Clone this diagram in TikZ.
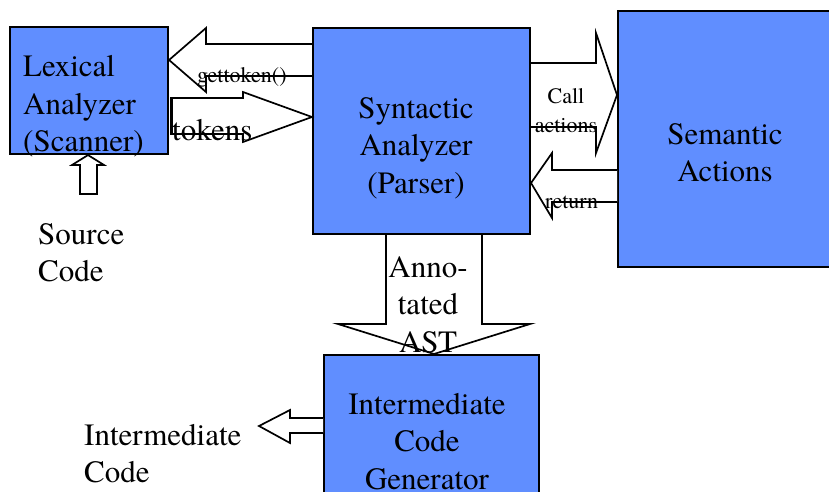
\documentclass[tikz,border=0pt]{standalone}
\usepackage{fontspec}
\setmainfont{TeX Gyre Termes}
\usetikzlibrary{calc}
\definecolor{boxblue}{RGB}{96,142,255}
\newcommand{\txtstack}[2]{\begin{tabular}[t]{@{}#1@{}}#2\end{tabular}}
\begin{document}
\begin{tikzpicture}[x=1pt,y=-1pt,
  box/.style={draw=black,line width=2.1pt,fill=boxblue,inner sep=0pt},
  blockarrow/.style={draw=black,line width=1.7pt,fill=white,line join=miter},
  big/.style={font=\fontsize{31}{37.5}\selectfont,inner sep=0pt},
  small/.style={font=\fontsize{22}{29}\selectfont,inner sep=0pt}]
\useasboundingbox (0,0) rectangle (829,492);
\clip (0,0) rectangle (829,492);

% processing stages
\node[box,minimum width=158pt,minimum height=127pt] (lex) at (89,90.5) {};
\node[box,minimum width=217pt,minimum height=206pt] (syn) at (421.5,131) {};
\node[box,minimum width=230pt,minimum height=256pt,anchor=north west] (sem) at (617,10) {};
\node[box,minimum width=215pt,minimum height=160pt,anchor=north west] (icg) at (323,354) {};

% block arrows between the stages
\draw[blockarrow] (syn.west |- 0,44) -- (206,44) -- (206,28) -- (lex.east |- 0,60)
  -- (206,92) -- (206,76) -- (syn.west |- 0,76);
\draw[blockarrow] (171,98) -- (243,98) -- (243,92) -- (syn.west |- 0,117)
  -- (243,142) -- (243,134) -- (171,134) -- cycle;
\draw[line width=3pt] (171,98) -- (171,134);
\draw[blockarrow] (syn.east |- 0,63) -- (596,63) -- (596,33) -- (sem.west |- 0,95)
  -- (596,153) -- (596,127) -- (syn.east |- 0,127);
\draw[blockarrow] (sem.west |- 0,170) -- (552,170) -- (552,153) -- (syn.east |- 0,183)
  -- (552,218) -- (552,202) -- (sem.west |- 0,202);
\draw[blockarrow] (80,194) -- (80,165) -- (72,165) -- (lex.south -| 88,0)
  -- (104,165) -- (97,165) -- (97,194) -- cycle;
\draw[blockarrow] (386,0 |- syn.south) -- (386,324) -- (338,324) -- (icg.north -| 434,0)
  -- (530,324) -- (482,324) -- (482,0 |- syn.south);
\draw[blockarrow] (icg.west |- 0,418) -- (290,418) -- (290,410) -- (259,426)
  -- (290,443) -- (290,433) -- (icg.west |- 0,433);

% labels
\node[big,anchor=base west] (lext) at (23,77) {\txtstack{l}{Lexical\\Analyzer\\(Scanner)}};
\node[big,anchor=base] (synt) at (416,118) {\txtstack{c}{Syntactic\\Analyzer\\(Parser)}};
\node[big,anchor=base] (semt) at (725,144) {\txtstack{c}{Semantic\\Actions}};
\node[big,anchor=base] (astt) at (428,277) {\txtstack{c}{Anno-\\tated\\AST}};
\node[big,anchor=base] (icgt) at (427,414) {\txtstack{c}{Intermediate\\Code\\Generator}};
\node[big,anchor=base west] (srct) at (38,244) {\txtstack{l}{Source\\Code}};
\node[big,anchor=base west] (outt) at (84,445) {\txtstack{l}{Intermediate\\Code}};
\node[big,anchor=base west] (tokt) at (172,140) {tokens};
\node[small,anchor=base west] (gett) at (197,83) {gettoken()};
\node[small,anchor=base] (callt) at (566,103) {\txtstack{c}{Call\\actions}};
\node[small,anchor=base west] (rett) at (545,208) {return};
\end{tikzpicture}
\end{document}
